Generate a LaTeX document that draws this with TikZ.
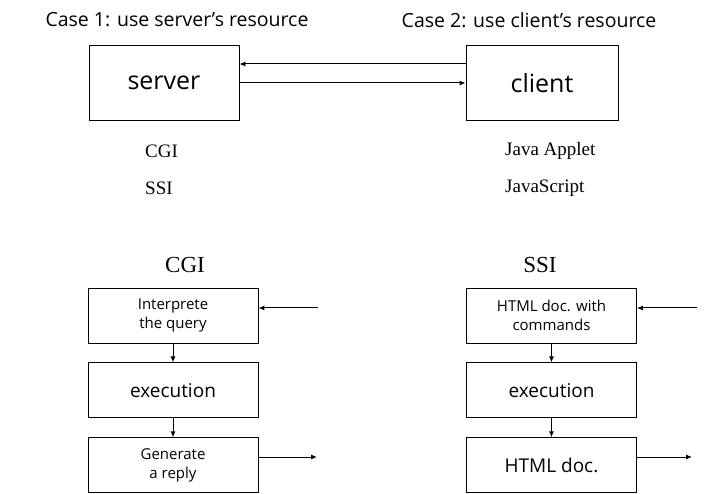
\documentclass[tikz,border=0pt]{standalone}
\usepackage{fontspec}
\setmainfont{Liberation Serif}
\newfontfamily\boxfont{Open Sans}
\usetikzlibrary{positioning,arrows.meta}

\begin{document}
\begin{tikzpicture}[
    x=1pt, y=-1pt,
    step box/.style={
        draw,
        line width=0.9pt,
        minimum width=170pt,
        minimum height=55pt,
        inner sep=0pt,
        align=center,
        font=\boxfont\fontsize{15}{19}\selectfont
    },
    host box/.style={
        draw,
        line width=0.9pt,
        minimum height=75pt,
        inner sep=0pt,
        font=\boxfont\fontsize{25}{30}\selectfont
    },
    flow/.style={
        draw,
        line width=1pt,
        -{Latex[length=6pt,width=5pt]}
    },
    case title/.style={
        font=\boxfont\fontsize{19.5}{23}\selectfont
    },
    tech label/.style={
        anchor=west,
        inner sep=0pt,
        font=\fontsize{19}{22}\selectfont
    },
    column title/.style={
        font=\fontsize{23}{26}\selectfont
    },
    node distance=19pt,
    ]
    \useasboundingbox (0,0) rectangle (715,494);

    % top part
    \node[case title] (case one) at (177,20) {Case 1: use server’s resource};
    \node[case title] (case two) at (529,20) {Case 2: use client’s resource};
    \node[host box, minimum width=150pt] (server) at (164,83) {server};
    \node[host box, minimum width=152pt] (client) at (542,83) {client};
    \draw[flow] ([yshift=19pt]client.west) -- ([yshift=19pt]server.east);
    \draw[flow] (server.east) -- (client.west);

    \node[tech label] (server cgi) at (145,151) {CGI};
    \node[tech label] (server ssi) at (145,188) {SSI};
    \node[tech label] (client applet) at (505,151) {Java Applet};
    \node[tech label] (client script) at (505,188) {JavaScript};

    % CGI
    \node[column title] (cgi title) at (185,265) {CGI};
    \node[step box] (cgi query) at (173,315.5) {Interprete\\the query};
    \node[step box, below=of cgi query,
        font=\boxfont\fontsize{19}{23}\selectfont] (cgi exec) {execution};
    \node[step box, below=of cgi exec] (cgi reply) {Generate\\a reply};
    \draw[flow] (cgi query) -- (cgi exec);
    \draw[flow] (cgi exec) -- (cgi reply);
    \coordinate (cgi in) at (318,308);
    \coordinate (cgi out) at (317,457);
    \draw[flow] (cgi in) -- (cgi query.east |- cgi in);
    \draw[flow] (cgi reply.east |- cgi out) -- (cgi out);

    % SSI
    \node[column title] (ssi title) at (540,265) {SSI};
    \node[step box] (ssi doc) at (551.5,315.5) {HTML doc. with\\commands};
    \node[step box, below=of ssi doc,
        font=\boxfont\fontsize{19}{23}\selectfont] (ssi exec) {execution};
    \node[step box, below=of ssi exec,
        font=\boxfont\fontsize{19}{23}\selectfont] (ssi html) {HTML doc.};
    \draw[flow] (ssi doc) -- (ssi exec);
    \draw[flow] (ssi exec) -- (ssi html);
    \coordinate (ssi in) at (697,308);
    \coordinate (ssi out) at (692,457);
    \draw[flow] (ssi in) -- (ssi doc.east |- ssi in);
    \draw[flow] (ssi html.east |- ssi out) -- (ssi out);
\end{tikzpicture}
\end{document}
